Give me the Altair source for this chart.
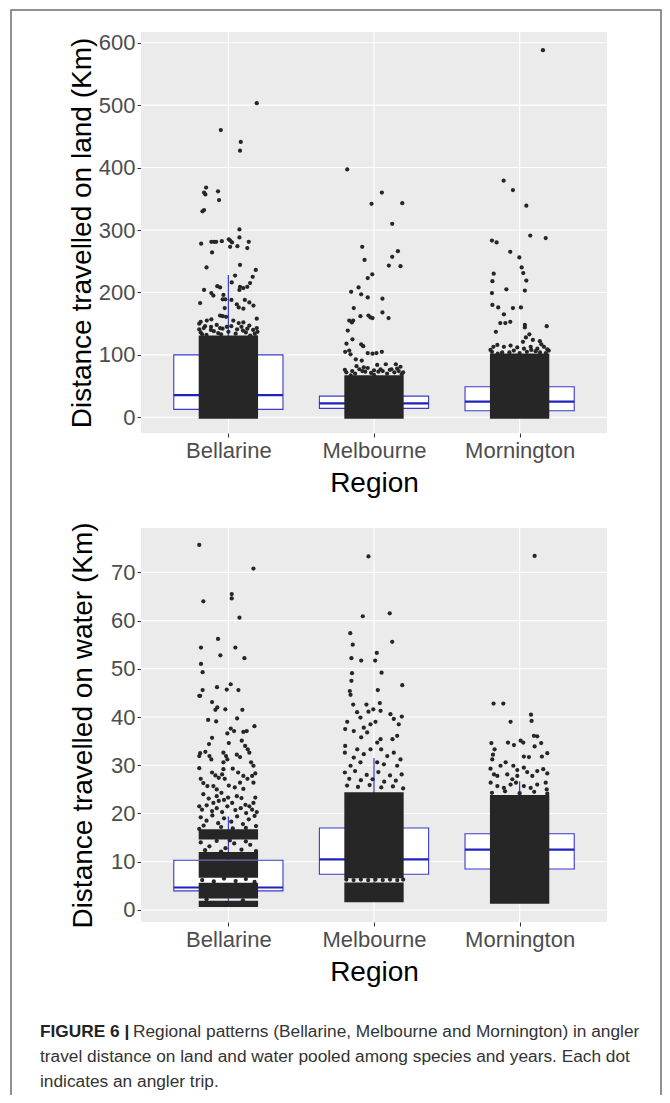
import altair as alt
import pandas as pd

# ---------------- data ----------------
regions = ["Bellarine", "Melbourne", "Mornington"]
region_idx = [1, 2, 3]
land_ticks = [0, 100, 200, 300, 400, 500, 600]
water_ticks = [0, 10, 20, 30, 40, 50, 60, 70]

# box-plot summaries
land_q1 = [12.8, 14.4, 10.6]
land_med = [35.7, 22.4, 25.0]
land_q3 = [100.0, 34.0, 49.0]
land_wlo = [1.0, 0.5, 0.5]
land_whi = [228.0, 63.0, 105.0]

water_q1 = [3.96, 7.4, 8.5]
water_med = [4.65, 10.5, 12.5]
water_q3 = [10.3, 17.0, 15.8]
water_wlo = [1.2, 2.0, 1.8]
water_whi = [19.4, 31.5, 26.7]

# solid (overplotted) parts of the point clouds: region, low, high
land_core_r = [1, 2, 3]
land_core_lo = [1.0, 1.0, 1.0]
land_core_hi = [128.0, 64.0, 99.0]

water_core_r = [1, 1, 1, 1, 1, 2, 2, 3]
water_core_lo = [1.0, 2.8, 7.1, 10.8, 15.0, 2.0, 7.0, 1.7]
water_core_hi = [1.5, 5.2, 9.8, 11.6, 16.3, 5.3, 24.0, 23.4]

# individual (visible) trips: jitter offset and value
land_bel_dx = [0.195, -0.052, 0.085, 0.08, -0.153, -0.167, -0.158, -0.071, -0.064, -0.167, -0.178, 0.076,
               -0.187, -0.117, -0.098, -0.084, -0.045, 0.003, 0.012, 0.025, 0.076, 0.14, 0.012, 0.062, 0.13,
               -0.112, -0.15, 0.08, 0.188, 0.046, 0.167, 0.149, 0.13, 0.103, 0.08, 0.076, 0.023, -0.167,
               -0.076, -0.057, -0.117, -0.103, -0.034, -0.021, -0.039, -0.194, 0.021, 0.113, 0.144, 0.172,
               0.058, 0.071, 0.103, -0.025, -0.057, -0.039, -0.016, -0.2, -0.19, -0.148, -0.117, 0.195,
               0.034, 0.071, 0.103, 0.144, -0.011, -0.057, -0.169, -0.119, 0.195, 0.181,
               -0.19, -0.15, -0.1, -0.05, 0.0, 0.05, 0.1, 0.15, 0.19, -0.18, -0.07, 0.12,
               -0.2, -0.16, -0.12, -0.08, -0.04, 0.02, 0.06, 0.09, 0.13, 0.17, 0.2]
land_bel_y = [503, 460, 441, 427, 368, 360, 357, 362, 348, 332, 330, 301,
              278, 281, 281, 281, 282, 285, 283, 280, 288, 281, 273, 274, 271,
              264, 240, 244, 236, 227, 225, 215, 209, 207, 209, 204, 216, 204,
              210, 208, 199, 195, 196, 189, 189, 183, 188, 188, 184, 179,
              181, 176, 174, 175, 163, 162, 161, 150, 153, 155, 157, 158,
              155, 151, 152, 147, 145, 143, 143, 145, 143, 134,
              136, 132, 138, 133, 137, 134, 139, 131, 128, 133, 135, 136,
              141, 146, 140, 148, 142, 146, 141, 145, 142, 140, 137]

land_mel_dx = [-0.184, 0.054, -0.017, 0.194, 0.125, -0.081, -0.065, 0.164, 0.125, 0.102, 0.182, -0.012,
               -0.043, -0.157, -0.106, -0.088, -0.043, 0.058, -0.139, -0.17, -0.152, -0.143, -0.093,
               -0.038, -0.024, -0.01, 0.058, 0.1, -0.18, -0.148, -0.189, -0.088, -0.074, -0.198, -0.17,
               -0.161, -0.043, -0.01, 0.017, 0.054, -0.125, -0.084, -0.12, -0.07, -0.043, 0.022, 0.081,
               0.15, 0.182, 0.045, 0.109, 0.159,
               -0.19, -0.13, -0.08, -0.02, 0.03, 0.09, 0.14, 0.19, -0.16, 0.0,
               -0.2, -0.15, -0.1, -0.06, 0.0, 0.06, 0.12, 0.17, 0.2]
land_mel_y = [397, 360, 342, 343, 310, 273, 252, 266, 257, 243, 242, 229,
              223, 201, 208, 197, 192, 190, 175, 155, 152, 155, 162,
              163, 160, 159, 168, 159, 139, 125, 118, 117, 114, 105, 107,
              101, 103, 102, 103, 105, 93, 91, 82, 80, 79, 84, 85,
              85, 81, 77, 76, 78,
              72, 70, 74, 71, 73, 70, 72, 69, 67, 68,
              76, 74, 77, 73, 75, 74, 77, 74, 72]

land_mor_dx = [0.16, -0.11, -0.046, 0.046, 0.073, 0.179, -0.19, -0.158, -0.064, -0.002, 0.014, 0.025,
               0.046, 0.036, -0.178, -0.187, -0.091, -0.19, -0.187, -0.147, -0.108, -0.046, 0.009,
               -0.133, -0.098, -0.064, 0.036, 0.036, 0.186, -0.163, 0.067, 0.043, 0.023, 0.091, 0.139,
               0.149, -0.18, -0.153, -0.108, -0.062, -0.016, 0.03, 0.076, 0.122, 0.167, 0.19,
               -0.19, -0.12, -0.04, 0.05, 0.11, 0.18,
               -0.2, -0.15, -0.07, 0.0, 0.08, 0.14, 0.2]
land_mor_y = [588, 379, 364, 339, 291, 287, 283, 280, 265, 256, 240, 231,
              219, 203, 230, 218, 205, 199, 180, 176, 165, 175, 176,
              151, 151, 153, 148, 144, 146, 137, 133, 128, 121, 124, 122,
              117, 113, 116, 113, 115, 112, 110, 113, 110, 113, 109,
              105, 104, 107, 105, 106, 103,
              108, 102, 104, 103, 108, 104, 107]

water_bel_dx = [-0.2, 0.172, -0.172, 0.023, 0.023, 0.076, -0.071, -0.188, 0.048, -0.055, 0.11, -0.188,
                -0.177, -0.078, -0.177, -0.2, -0.194, -0.011, 0.016, 0.069, -0.112, -0.076, -0.089,
                -0.021, 0.096, -0.139, -0.084, 0.06, 0.179, 0.016, 0.039, -0.007, 0.103, 0.126, -0.112,
                -0.133, 0.003, 0.092, 0.115, 0.133, 0.144,
                -0.2, -0.194, -0.158, -0.13, -0.117, -0.034, -0.016, -0.007, -0.034, 0.058, 0.08, 0.156,
                0.172, -0.2, -0.112, -0.089, -0.066, -0.034, -0.043, -0.025, 0.03, 0.067, 0.103, 0.131,
                0.163, 0.185, 0.172,
                -0.19, -0.172, -0.144, -0.103, -0.08, -0.048, 0.003, 0.044, 0.08, 0.103, -0.172, -0.135,
                -0.103, -0.08, -0.066, -0.03, -0.002, 0.026, 0.058, 0.09, 0.117, 0.144, 0.172, 0.185,
                -0.2, -0.181, -0.149, -0.112, -0.08, -0.043, -0.007, 0.048, 0.085, 0.122, 0.163, 0.195,
                -0.19, -0.15, -0.11, -0.07, -0.03, 0.02, 0.06, 0.1, 0.14, 0.18, -0.17, -0.05, 0.12, 0.19,
                -0.2, 0.03,
                -0.19, -0.13, -0.08, -0.02, 0.04, 0.09, 0.15, 0.19, -0.16, 0.01, 0.12, -0.05,
                -0.18, -0.1, -0.03, 0.05, 0.12, 0.18, -0.15, 0.1]
water_bel_y = [75.7, 70.8, 64.0, 65.5, 64.6, 60.6, 56.2, 54.4, 54.4, 52.8, 52.2, 51.0,
               49.3, 46.2, 45.6, 44.4, 44.4, 45.7, 46.8, 45.6, 43.1, 42.0, 41.5,
               41.6, 41.5, 39.4, 39.1, 39.7, 38.1, 37.6, 37.1, 36.6, 36.9, 37.1, 35.7,
               34.4, 34.6, 35.1, 34.0, 33.3, 32.6,
               31.9, 32.5, 32.8, 31.9, 31.2, 32.6, 31.9, 31.2, 30.6, 32.2, 31.7, 30.6,
               29.9, 29.4, 28.5, 27.9, 27.4, 29.2, 28.1, 27.2, 29.3, 28.5, 27.8, 27.2,
               27.8, 28.3, 26.4,
               27.2, 26.3, 25.7, 25.7, 25.0, 24.3, 25.8, 25.4, 26.4, 25.1, 24.0, 23.1,
               22.2, 23.6, 22.6, 22.8, 23.3, 22.2, 23.6, 23.2, 21.8, 21.5, 22.2, 23.3,
               21.5, 20.8, 21.7, 20.5, 21.1, 20.3, 21.5, 20.7, 21.1, 20.1, 20.8, 20.3,
               19.2, 18.5, 19.6, 18.0, 19.0, 18.3, 19.4, 17.8, 18.8, 19.5, 17.5, 17.2, 17.0, 17.4,
               16.8, 16.9,
               14.0, 13.2, 14.3, 12.8, 13.8, 12.5, 13.5, 12.2, 12.4, 14.4, 14.2, 12.1,
               6.2, 5.9, 6.5, 6.0, 6.4, 5.8, 2.2, 2.0]

water_mel_dx = [-0.038, -0.077, 0.108, -0.163, -0.146, 0.125, -0.155, -0.088, 0.008, 0.019, 0.052, -0.151,
                -0.155, 0.194, -0.166, -0.161, 0.026, -0.143, -0.052, -0.005, 0.04, -0.116, -0.093,
                -0.038, 0.045, 0.113, 0.136, 0.191, 0.17, -0.184, -0.198, -0.139, -0.07, -0.024, 0.01,
                -0.088, -0.047, 0.022, 0.045, 0.127, 0.159, -0.198, -0.2, -0.115, -0.07, -0.024, 0.049,
                0.091, 0.136, 0.182, -0.139, -0.161, -0.093, 0.022, 0.068, 0.159,
                -0.2, -0.17, -0.13, -0.09, -0.05, -0.01, 0.03, 0.07, 0.11, 0.15, 0.19, -0.185, -0.11,
                -0.03, 0.05, 0.13, 0.2,
                -0.19, -0.14, -0.09, -0.04, 0.01, 0.06, 0.11, 0.16, 0.2]
water_mel_y = [73.3, 60.9, 61.5, 57.4, 55.0, 55.6, 52.2, 51.7, 51.7, 53.3, 49.2, 49.1,
               47.5, 46.6, 45.4, 44.6, 45.6, 42.6, 42.6, 41.6, 42.9, 41.0, 39.9,
               41.1, 41.3, 40.6, 39.6, 40.1, 38.5, 39.0, 37.5, 37.1, 37.8, 38.5, 39.0,
               35.8, 36.8, 34.7, 35.4, 35.4, 36.1, 34.0, 32.6, 33.3, 32.3, 33.3, 33.3,
               31.9, 32.6, 31.2, 31.6, 29.9, 30.6, 30.6, 30.2, 29.9,
               28.5, 27.2, 28.8, 26.9, 28.0, 27.1, 28.6, 26.6, 27.9, 26.8, 28.1, 25.8, 25.5,
               25.9, 25.4, 25.6, 25.2,
               6.3, 6.2, 6.3, 6.2, 6.3, 6.2, 6.3, 6.2, 6.3]

water_mor_dx = [0.103, -0.179, -0.112, 0.078, 0.082, -0.062, -0.194, -0.172, -0.183, -0.08, -0.039, 0.007,
                0.025, 0.098, 0.121, 0.148, 0.103, 0.19, 0.153, 0.029, 0.064, -0.188, -0.131, -0.096,
                -0.043, -0.016, -0.2, -0.176, -0.153, 0.029, 0.052, 0.087, 0.121, 0.162, 0.19, -0.085,
                -0.05, -0.016, -0.199, -0.153, -0.108, -0.062, -0.025, 0.029, 0.076, 0.121, 0.179, 0.186,
                -0.19, -0.1, 0.0, 0.1, 0.19]
water_mor_y = [73.4, 42.8, 42.8, 40.5, 39.2, 39.0, 34.6, 33.3, 32.2, 34.7, 34.2, 35.1,
               34.7, 36.1, 36.0, 34.6, 33.9, 32.5, 31.8, 31.8, 31.7, 31.2, 29.9, 30.6,
               29.9, 29.0, 29.3, 28.1, 27.8, 29.5, 28.6, 27.8, 28.8, 29.2, 28.3, 28.1,
               27.1, 27.8, 26.4, 25.7, 25.3, 26.0, 26.4, 25.7, 25.3, 26.0, 26.4, 25.0,
               24.3, 24.6, 24.2, 24.5, 24.1]

caption_bold = "FIGURE 6 |"
caption_lines = [
    "Regional patterns (Bellarine, Melbourne and Mornington) in angler",
    "travel distance on land and water pooled among species and years. Each dot",
    "indicates an angler trip.",
]
land_title = "Distance travelled on land (Km)"
water_title = "Distance travelled on water (Km)"
x_title = "Region"

# ---------------- tables ----------------
def points(parts):
    rows = []
    for r, dx, ys in parts:
        for d, v in zip(dx, ys):
            rows.append({"r": r, "dx": d, "v": v})
    return pd.DataFrame(rows)

land_pts = points([(1, land_bel_dx, land_bel_y), (2, land_mel_dx, land_mel_y), (3, land_mor_dx, land_mor_y)])
water_pts = points([(1, water_bel_dx, water_bel_y), (2, water_mel_dx, water_mel_y), (3, water_mor_dx, water_mor_y)])

land_box = pd.DataFrame({"r": region_idx, "q1": land_q1, "med": land_med, "q3": land_q3,
                         "lo": land_wlo, "hi": land_whi})
water_box = pd.DataFrame({"r": region_idx, "q1": water_q1, "med": water_med, "q3": water_q3,
                          "lo": water_wlo, "hi": water_whi})
land_core = pd.DataFrame({"r": land_core_r, "lo": land_core_lo, "hi": land_core_hi})
water_core = pd.DataFrame({"r": water_core_r, "lo": water_core_lo, "hi": water_core_hi})
one = pd.DataFrame({"k": [0]})

# ---------------- style ----------------
W, H = 654, 1087
FONT = "Liberation Sans"
CAPFONT = "Liberation Sans"
CAPSIZE = 17.3
PANEL_L, PANEL_R = 133, 599
TOP_T, TOP_B = 24, 425
BOT_T, BOT_B = 520, 914
PT_COLOR = "#262626"
BOX_COLOR = "#3a3acc"
HALF_BOX = 0.375
HALF_JIT = 0.19

xs = alt.Scale(domain=[0.4, 3.6], range=[PANEL_L, PANEL_R], nice=False, zero=False)
ys_top = alt.Scale(domain=[-25.1, 617.1], range=[TOP_B, TOP_T], nice=False, zero=False)
ys_bot = alt.Scale(domain=[-2.5, 79.2], range=[BOT_B, BOT_T], nice=False, zero=False)

label_expr = "[" + ",".join("'" + r + "'" for r in regions) + "][datum.value - 1]"


def y_axis(title, values, pad):
    return alt.Axis(orient="left", offset=-PANEL_L, values=values, title=title, grid=False,
                    domain=False, ticks=True, tickSize=4, tickColor="#333333", tickWidth=1,
                    labelFont=FONT, labelFontSize=22, labelColor="#4d4d4d", labelPadding=2,
                    titleFont=FONT, titleFontSize=28, titleFontWeight="normal", titleColor="black",
                    titlePadding=pad)


def x_axis(bottom):
    return alt.Axis(orient="bottom", offset=bottom - H, values=region_idx, labelExpr=label_expr,
                    title=x_title, grid=False, domain=False, ticks=True, tickSize=4,
                    tickColor="#333333", labelFont=FONT, labelFontSize=22, labelColor="#4d4d4d",
                    labelPadding=3, labelFlush=False, titleFont=FONT, titleFontSize=28,
                    titleFontWeight="normal", titleColor="black", titlePadding=8)


def panel(ticks, ys, top, bottom, title, tpad, box, core, pts):
    tick_df = pd.DataFrame({"t": ticks})
    reg_df = pd.DataFrame({"r": region_idx})
    bg = alt.Chart(one).mark_rect(color="#ebebeb").encode(
        x=alt.value(PANEL_L), x2=alt.value(PANEL_R), y=alt.value(top), y2=alt.value(bottom))
    hgrid = alt.Chart(tick_df).mark_rule(color="white", strokeWidth=1.1).encode(
        y=alt.Y("t:Q", scale=ys, axis=y_axis(title, ticks, tpad)),
        x=alt.value(PANEL_L), x2=alt.value(PANEL_R))
    vgrid = alt.Chart(reg_df).mark_rule(color="white", strokeWidth=1.1).encode(
        x=alt.X("r:Q", scale=xs, axis=x_axis(bottom)),
        y=alt.value(top), y2=alt.value(bottom))
    bx = alt.Chart(box).transform_calculate(
        a=f"datum.r - {HALF_BOX}", b=f"datum.r + {HALF_BOX}")
    whisk_hi = bx.mark_rule(color=BOX_COLOR, strokeWidth=1.2).encode(
        x=alt.X("r:Q", scale=xs, axis=None), y=alt.Y("q3:Q", scale=ys, axis=None), y2="hi:Q")
    whisk_lo = bx.mark_rule(color=BOX_COLOR, strokeWidth=1.2).encode(
        x=alt.X("r:Q", scale=xs, axis=None), y=alt.Y("lo:Q", scale=ys, axis=None), y2="q1:Q")
    body = bx.mark_rect(fill="white", stroke=BOX_COLOR, strokeWidth=1.1).encode(
        x=alt.X("a:Q", scale=xs, axis=None), x2="b:Q",
        y=alt.Y("q1:Q", scale=ys, axis=None), y2="q3:Q")
    med = bx.mark_rule(color="#2020c0", strokeWidth=2.2).encode(
        x=alt.X("a:Q", scale=xs, axis=None), x2="b:Q",
        y=alt.Y("med:Q", scale=ys, axis=None))
    cores = alt.Chart(core).transform_calculate(
        a=f"datum.r - {HALF_JIT}", b=f"datum.r + {HALF_JIT}").mark_rect(
        fill=PT_COLOR, stroke=PT_COLOR, strokeWidth=4).encode(
        x=alt.X("a:Q", scale=xs, axis=None), x2="b:Q",
        y=alt.Y("lo:Q", scale=ys, axis=None), y2="hi:Q")
    dots = alt.Chart(pts).transform_calculate(xp="datum.r + datum.dx").mark_circle(
        color=PT_COLOR, opacity=1, size=18).encode(
        x=alt.X("xp:Q", scale=xs, axis=None), y=alt.Y("v:Q", scale=ys, axis=None))
    return [bg, hgrid, vgrid, whisk_hi, whisk_lo, body, med, cores, dots]


layers = []
layers += panel(land_ticks, ys_top, TOP_T, TOP_B, land_title, 2, land_box, land_core, land_pts)
layers += panel(water_ticks, ys_bot, BOT_T, BOT_B, water_title, 13, water_box, water_core, water_pts)

frame = alt.Chart(one).mark_rect(fillOpacity=0, stroke="#6e6e6e", strokeWidth=1.5).encode(
    x=alt.value(3), x2=alt.value(653), y=alt.value(2), y2=alt.value(H + 20))
layers.append(frame)

cap_bold = alt.Chart(one).mark_text(align="left", baseline="alphabetic", font=CAPFONT, fontSize=CAPSIZE,
                                    fontWeight="bold", color="#222222").encode(
    x=alt.value(32), y=alt.value(1029), text=alt.value(caption_bold))
layers.append(cap_bold)
for i, (line, x0) in enumerate(zip(caption_lines, [125, 32, 32])):
    layers.append(alt.Chart(one).mark_text(align="left", baseline="alphabetic", font=CAPFONT,
                                           fontSize=CAPSIZE, color="#333333").encode(
        x=alt.value(x0), y=alt.value(1029 + 25 * i), text=alt.value(line)))

chart = alt.layer(*layers).resolve_scale(x="independent", y="independent").resolve_axis(
    x="independent", y="independent").properties(
    width=W, height=H, autosize=alt.AutoSizeParams(type="none"), padding=0
).configure_view(stroke=None)

chart.save("out.html", embed_options={"renderer": "svg", "actions": False})
